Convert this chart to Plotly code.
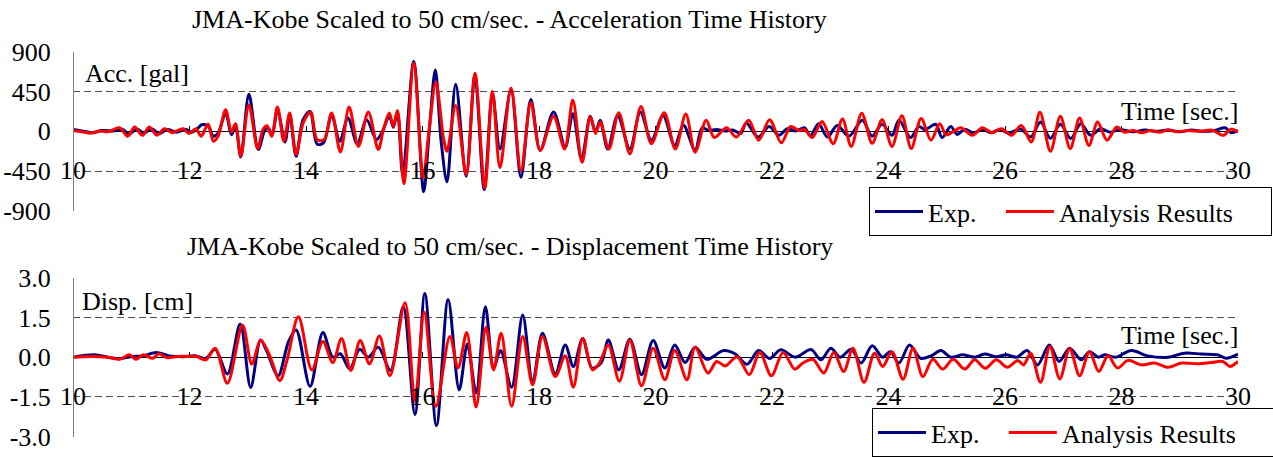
import plotly.graph_objects as go

# ---------------- data ----------------
acc_ana_t = [10.0, 10.15, 10.31, 10.45, 10.6, 10.8, 10.94, 11.06, 11.19, 11.31,
             11.44, 11.57, 11.7, 11.78, 11.89, 11.99, 12.11, 12.2, 12.32, 12.41,
             12.49, 12.62, 12.72, 12.79, 12.88, 13.02, 13.17, 13.26, 13.33, 13.41,
             13.51, 13.62, 13.72, 13.83, 13.95, 14.08, 14.19, 14.31, 14.44, 14.59,
             14.74, 14.9, 15.07, 15.24, 15.33, 15.43, 15.5, 15.57, 15.68, 15.85,
             16.01, 16.11, 16.23, 16.36, 16.42, 16.57, 16.75, 16.9, 17.07, 17.2,
             17.33, 17.52, 17.69, 17.86, 18.02, 18.25, 18.44, 18.58, 18.74, 18.88,
             18.97, 19.05, 19.2, 19.37, 19.56, 19.75, 19.93, 20.15, 20.34, 20.52,
             20.68, 20.87, 21.01, 21.22, 21.39, 21.6, 21.77, 21.96, 22.16, 22.32,
             22.46, 22.56, 22.69, 22.86, 23.05,
             23.21, 23.36, 23.54, 23.72, 23.89, 24.06, 24.23, 24.39, 24.56, 24.73,
             24.88, 24.99, 25.12, 25.24, 25.44, 25.61, 25.78, 25.94, 26.11, 26.28,
             26.45, 26.6, 26.78, 26.95, 27.12, 27.28, 27.44, 27.59, 27.75, 27.92,
             28.05, 28.2, 28.35, 28.5, 28.65, 28.8, 28.95, 29.15, 29.35, 29.55,
             29.75, 29.88, 30.0]
acc_ana = [10, -5, -20, 5, -5, 40, -55, 50, -45, 50,
           -45, 30, -15, 5, 30, -25, 30, -55, 82, -112,
           -56, 244, -8, 86, -281, 300, -195, 19, 64, -56,
           274, -112, 206, -262, 94, 218, -94, -94, 206, -232,
           274, -169, 218, -206, 19, 206, 56, 236, -592, 769,
           -525, 0, 555, -75, -225, 292, -487, 656, -637, 450,
           -410, 490, -445, 325, -215, 170, -200, 355, -350, 165,
           -25, 105, -200, 210, -255, 280, -140, 210, -200, 195,
           -235, 125, -70, 40, -65, 125, -100, 130, -130, 55,
           10, 20, -70, 110, -140,
           140, -170, 205, -135, 130, -170, 175, -195, 145, -100,
           85, -40, 0, 40, -45, 40, -15, 30, -45, 65,
           -120, 215, -225, 170, -195, 150, -160, 105, -100, 50,
           -10, 10, -15, 10, -10, 15, -5, 10, 0, 15,
           -45, 25, -10]

acc_exp_t = [10.0, 10.18, 10.35, 10.5, 10.68, 10.85, 10.96, 11.1, 11.22, 11.35,
             11.48, 11.62, 11.78, 11.93, 12.04, 12.15, 12.21, 12.32, 12.41, 12.49,
             12.62, 12.72, 12.79, 12.88, 13.02, 13.18, 13.29, 13.35, 13.42, 13.51,
             13.64, 13.72, 13.83, 13.95, 14.07, 14.19, 14.3, 14.44, 14.58, 14.72,
             14.88, 15.04, 15.21, 15.3, 15.43, 15.5, 15.57, 15.66, 15.85, 16.02,
             16.12, 16.22, 16.32, 16.42, 16.57, 16.75, 16.9, 17.06, 17.2, 17.33,
             17.52, 17.69, 17.86, 18.02, 18.25, 18.45, 18.58, 18.73, 18.88, 18.97,
             19.05, 19.18, 19.35, 19.56, 19.74, 19.93, 20.13, 20.33, 20.48, 20.68,
             20.8, 20.91, 21.05, 21.2, 21.33, 21.46, 21.56, 21.76, 21.95, 22.12,
             22.26, 22.41, 22.56, 22.66, 22.8, 22.95, 23.12, 23.32, 23.55, 23.72,
             23.89, 24.06, 24.18, 24.38, 24.52, 24.63, 24.81, 24.92, 25.07, 25.18,
             25.31, 25.46, 25.61, 25.76, 25.91, 26.06, 26.27, 26.44, 26.61, 26.78,
             26.95, 27.13, 27.3, 27.47, 27.64, 27.81, 27.96, 28.2, 28.4, 28.6,
             28.8, 29.0, 29.2, 29.4, 29.6, 29.78, 29.88, 30.0]
acc_exp = [20, 0, -15, 10, 5, 20, -30, 25, -20, 30,
           -25, 20, -10, 25, -10, 40, 75, 60, -56, -20,
           206, -38, 56, -290, 420, -206, 8, 38, -38, 244,
           -120, 188, -281, 131, 225, -142, -131, 188, -112, 150,
           -142, 131, -94, -19, 169, 45, 225, -488, 788, -682,
           38, 694, -112, -570, 532, -506, 638, -656, 430, -200,
           470, -520, 360, -215, 220, -180, 200, -310, 170, -10,
           125, -200, 180, -200, 220, -100, 180, -160, 70, -215,
           40, 10, 20, 5, 15, -25, 95, -65, 55, -45,
           30, 5, 40, -50, 85, -65, 65, -55, 125, -55,
           80, -45, 125, -70, 55, 20, 80, -70, 55, -35,
           25, -20, 25, -15, 20, -20, 25, -65, 105, -80,
           80, -80, 85, -45, 30, -10, 20, -5, 15, 0,
           15, -5, 15, 0, 10, 40, -15, 10]

disp_ana_t = [10.0, 10.3, 10.6, 10.8, 10.97, 11.08, 11.21, 11.37, 11.47, 11.62,
              11.8, 11.97, 12.12, 12.28, 12.44, 12.65, 12.91, 13.07, 13.22, 13.37,
              13.55, 13.67, 13.87, 14.1, 14.29, 14.46, 14.61, 14.77, 14.93, 15.09,
              15.26, 15.44, 15.7, 15.87, 16.03, 16.23, 16.47, 16.61, 16.76, 16.92,
              17.09, 17.22, 17.35, 17.53, 17.72, 17.89, 18.06, 18.28, 18.45, 18.59,
              18.75, 18.92, 19.03, 19.19, 19.38, 19.56, 19.76, 19.96, 20.16, 20.33,
              20.54, 20.68, 20.9, 21.05, 21.2, 21.4, 21.61, 21.79, 21.99, 22.19,
              22.39, 22.53, 22.7, 22.89, 23.06, 23.23, 23.39, 23.58, 23.76, 23.9,
              24.06, 24.25, 24.42, 24.59, 24.76, 24.93, 25.11, 25.31, 25.48, 25.66,
              25.85, 26.04, 26.22, 26.32, 26.44, 26.61, 26.77, 26.94, 27.11, 27.28,
              27.45, 27.61, 27.77, 27.93, 28.11, 28.34, 28.57, 28.8, 29.03, 29.31,
              29.54, 29.74, 29.86, 30.0]
disp_ana = [0.0, 0.03, 0.0, -0.08, 0.09, -0.08, 0.09, -0.04, 0.13, -0.02,
            0.03, 0.03, 0.03, -0.1, 0.34, -0.98, 1.21, -0.26, 0.65, 0.1,
            -0.88, -0.15, 1.53, -0.48, 0.59, -0.2, 0.71, -0.5, 0.63, -0.25,
            0.8, -0.7, 2.05, -1.66, 1.71, -1.85, 0.78, -0.41, 0.93, -1.88,
            1.13, -0.48, 0.9, -1.85, 0.78, -1.04, 0.78, -0.73, 0.05, -1.13,
            0.71, -0.48, -0.25, 0.46, -0.91, 0.65, -1.08, 0.34, -0.85, 0.25,
            -0.85, 0.38, -0.6, -0.16, -0.33, 0.02, -0.66, 0.18, -0.7, 0.18,
            -0.45, -0.22, -0.08, -0.6, 0.18, -0.54, 0.34, -0.95, 0.15, -0.35,
            0.21, -0.83, 0.34, -0.73, -0.08, -0.45, -0.08, -0.45, -0.1, -0.42,
            -0.1, -0.38, -0.12, -0.29, 0.15, -0.95, 0.4, -0.82, 0.32, -0.7,
            0.21, -0.54, 0.05, -0.41, -0.12, -0.29, -0.22, -0.38, -0.22, -0.25,
            -0.2, -0.16, -0.35, -0.16]

disp_exp_t = [10.0, 10.37, 10.6, 10.8, 11.0, 11.2, 11.43, 11.65, 11.9, 12.1,
              12.28, 12.44, 12.65, 12.87, 13.05, 13.22, 13.33, 13.52, 13.7, 13.83,
              14.07, 14.29, 14.46, 14.59, 14.75, 14.92, 15.07, 15.24, 15.45, 15.67,
              15.87, 16.04, 16.24, 16.44, 16.63, 16.77, 16.92, 17.08, 17.22, 17.34,
              17.53, 17.72, 17.89, 18.06, 18.28, 18.45, 18.59, 18.75, 18.91, 19.07,
              19.19, 19.37, 19.56, 19.76, 19.96, 20.16, 20.33, 20.51, 20.68, 20.88,
              21.17, 21.37, 21.57, 21.77, 21.96, 22.15, 22.4, 22.67, 22.84, 23.01,
              23.17, 23.36, 23.53, 23.72, 23.9, 24.03, 24.18, 24.36, 24.55, 24.73,
              24.9, 25.07, 25.27, 25.48, 25.65, 25.85, 26.02, 26.2, 26.38, 26.56,
              26.76, 26.93, 27.11, 27.31, 27.45, 27.6, 27.71, 27.9, 28.17, 28.45,
              28.8, 29.08, 29.37, 29.65, 29.8, 30.0]
disp_exp = [0.0, 0.09, 0.0, -0.06, 0.02, 0.05, 0.18, 0.05, 0.02, 0.05,
            -0.04, 0.3, -0.63, 1.25, -1.14, 0.65, 0.21, -0.7, 0.59, 1.03,
            -1.1, 0.93, 0.0, 0.13, -0.45, 0.3, 0.0, 0.38, -0.5, 1.9,
            -2.16, 2.4, -2.58, 2.18, -1.23, 0.5, -1.35, 1.9, -0.41, 0.25,
            -1.13, 1.59, -0.95, 0.9, -0.63, 0.46, -0.35, 0.71, -0.41, -0.2,
            0.65, -0.48, 0.68, -0.66, 0.63, -0.41, 0.46, -0.2, 0.38, -0.08,
            0.25, 0.12, -0.27, 0.25, -0.05, 0.28, 0.0, 0.29, -0.1, 0.34,
            0.0, 0.3, -0.22, 0.43, 0.0, 0.21, -0.22, 0.46, -0.04, 0.05,
            0.25, 0.0, 0.09, 0.0, 0.12, 0.02, 0.09, 0.0, 0.25, -0.29,
            0.46, -0.16, 0.34, -0.1, 0.21, 0.0, 0.09, 0.0, 0.25, 0.05,
            0.0, 0.15, 0.12, 0.09, -0.04, 0.12]

x_tickvals = [10, 12, 14, 16, 18, 20, 22, 24, 26, 28, 30]
x_ticktext = ["10", "12", "14", "16", "18", "20", "22", "24", "26", "28", "30"]
acc_tickvals = [-900, -450, 0, 450, 900]
acc_ticktext = ["-900", "-450", "0", "450", "900"]
disp_tickvals = [-3.0, -1.5, 0.0, 1.5, 3.0]
disp_ticktext = ["-3.0", "-1.5", "0.0", "1.5", "3.0"]

title_acc = "JMA-Kobe Scaled to 50 cm/sec. - Acceleration Time History"
title_disp = "JMA-Kobe Scaled to 50 cm/sec. - Displacement Time History"
series_names = ["Exp.", "Analysis Results"]
series_colors = ["#000080", "#FF0000"]

# ---------------- layout helpers ----------------
W, H = 1273, 457
FONT = "Liberation Serif, Times New Roman, serif"
FS = 26


def px(x):  # window pixel -> paper fraction
    return x / W


def py(y):
    return 1 - y / H


xdom = [px(73), px(1238)]
top_dom = [py(211), py(51.7)]
bot_dom = [py(436.7), py(277.7)]

fig = go.Figure()

NB = "\u00a0"
legend_labels = [series_names[0] + NB * 3, series_names[1] + NB * 5]

line_w = 3
for (tt, vv), name, col in zip([(acc_exp_t, acc_exp), (acc_ana_t, acc_ana)], legend_labels, series_colors):
    fig.add_trace(go.Scatter(x=tt, y=vv, name=name, mode="lines",
                             line=dict(color=col, width=line_w, shape="spline", smoothing=0.9),
                             xaxis="x", yaxis="y", legend="legend", hoverinfo="skip"))
for (tt, vv), name, col in zip([(disp_exp_t, disp_exp), (disp_ana_t, disp_ana)], legend_labels, series_colors):
    fig.add_trace(go.Scatter(x=tt, y=vv, name=name, mode="lines",
                             line=dict(color=col, width=line_w, shape="spline", smoothing=0.9),
                             xaxis="x2", yaxis="y2", legend="legend2", hoverinfo="skip"))
# placeholders so the zero-line axes are registered
fig.add_trace(go.Scatter(x=[None], y=[None], xaxis="x3", yaxis="y", showlegend=False, hoverinfo="skip"))
fig.add_trace(go.Scatter(x=[None], y=[None], xaxis="x4", yaxis="y2", showlegend=False, hoverinfo="skip"))

lbl_shift = 19  # px: raise label axis so labels sit centered on the dashed line

label_axis = dict(range=[10, 30], domain=xdom, anchor="free", tickvals=x_tickvals,
                  ticktext=x_ticktext, showline=False, ticks="", showgrid=False,
                  zeroline=False, automargin=False,
                  tickfont=dict(family=FONT, size=FS, color="black"))
zero_axis = dict(range=[10, 30], domain=xdom, anchor="free", tickvals=x_tickvals,
                 showticklabels=False, showline=True, linecolor="black", linewidth=1,
                 ticks="inside", ticklen=5, tickcolor="black", tickwidth=1,
                 showgrid=False, zeroline=False, layer="below traces", automargin=False)

y_common = dict(showline=True, linecolor="#808080", linewidth=1, showgrid=True,
                gridcolor="#505050", gridwidth=1, griddash="7px,4px", zeroline=False,
                ticks="", ticklabelstandoff=17, automargin=False,
                tickfont=dict(family=FONT, size=FS, color="black"))

leg_common = dict(xanchor="left", yanchor="top", orientation="h",
                  bordercolor="black", borderwidth=1, bgcolor="white", itemwidth=48,
                  font=dict(family=FONT, size=FS, color="black"))

fig.update_layout(
    width=W, height=H, autosize=False,
    margin=dict(l=0, r=0, t=0, b=0, autoexpand=False),
    paper_bgcolor="white", plot_bgcolor="white",
    font=dict(family=FONT, size=FS, color="black"),
    xaxis=dict(label_axis, position=py(171 - lbl_shift)),
    xaxis2=dict(label_axis, position=py(397.3 - lbl_shift)),
    xaxis3=dict(zero_axis, overlaying="x", position=py(131.3)),
    xaxis4=dict(zero_axis, overlaying="x2", position=py(357.3)),
    yaxis=dict(y_common, domain=top_dom, range=[-900, 900], tickvals=acc_tickvals,
               ticktext=acc_ticktext, anchor="free", position=xdom[0]),
    yaxis2=dict(y_common, domain=bot_dom, range=[-3.0, 3.0], tickvals=disp_tickvals,
                ticktext=disp_ticktext, anchor="free", position=xdom[0]),
    legend=dict(leg_common, x=px(869), y=py(187)),
    legend2=dict(leg_common, x=px(872), y=py(408)),
    showlegend=True,
)

ann = dict(xref="paper", yref="paper", showarrow=False,
           font=dict(family=FONT, size=FS, color="black"))
fig.add_annotation(ann, text=title_acc, x=px(190), y=py(19), xanchor="left", yanchor="middle")
fig.add_annotation(ann, text=title_disp, x=px(185), y=py(246), xanchor="left", yanchor="middle")
fig.add_annotation(ann, text="Acc. [gal]", x=px(83), y=py(73), xanchor="left", yanchor="middle")
fig.add_annotation(ann, text="Disp. [cm]", x=px(80), y=py(301), xanchor="left", yanchor="middle")
fig.add_annotation(ann, text="Time [sec.]", x=px(1240), y=py(112), xanchor="right", yanchor="middle")
fig.add_annotation(ann, text="Time [sec.]", x=px(1240), y=py(335), xanchor="right", yanchor="middle")

# remove the default 8px page margin so the figure sits at the window corner
fig.write_html("out.html", config={"displayModeBar": False, "staticPlot": True},
               post_script="document.body.style.margin='0';")
